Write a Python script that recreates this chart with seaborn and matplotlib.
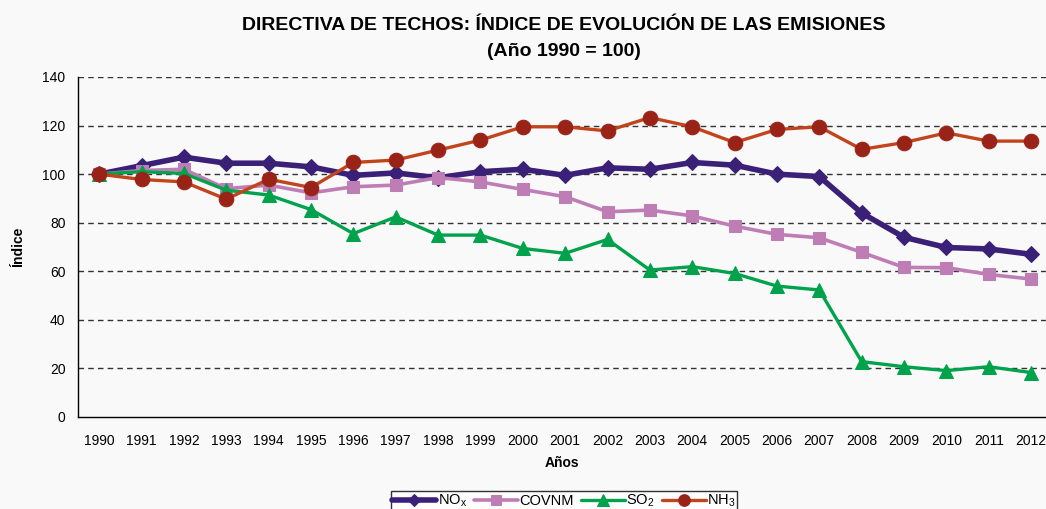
import numpy as np
import pandas as pd
import matplotlib
matplotlib.use("Agg")
import matplotlib.pyplot as plt
import seaborn as sns
from matplotlib.ticker import MultipleLocator, FixedLocator

years = list(range(1990, 2013))

nox = [100, 103.5, 107, 104.5, 104.5, 103, 99.5, 100.5, 98.5, 101, 102, 99.5,
       102.6, 102, 104.8, 103.7, 100, 99, 84, 74, 69.8, 69.2, 67]
covnm = [100, 101.5, 102, 94, 95.5, 92.3, 94.8, 95.5, 98.6, 96.8, 93.7, 90.7,
         84.5, 85.2, 82.8, 78.6, 75.2, 73.8, 67.8, 61.6, 61.5, 58.7, 56.8]
so2 = [100, 101, 100.3, 93.4, 91.4, 85.4, 75.5, 82.4, 74.9, 74.9, 69.4, 67.4,
       73.1, 60.5, 61.9, 59.1, 53.9, 52.3, 22.8, 20.7, 19.1, 20.7, 18.3]
nh3 = [100, 97.8, 96.8, 89.7, 97.9, 94.5, 104.8, 105.8, 109.9, 114, 119.5, 119.5,
       117.8, 123.3, 119.5, 113, 118.4, 119.5, 110.2, 113, 117, 113.6, 113.6]

series = ["NO$_\\mathrm{x}$", "COVNM", "SO$_2$", "NH$_3$"]

df = pd.DataFrame({
    "Año": years * 4,
    "Índice": nox + covnm + so2 + nh3,
    "Serie": [s for s in series for _ in years],
})

sns.set_style("white")
plt.rcParams["font.family"] = ["Liberation Sans", "DejaVu Sans"]
plt.rcParams["mathtext.fontset"] = "custom"
plt.rcParams["mathtext.rm"] = "Liberation Sans"
plt.rcParams["text.color"] = "black"
plt.rcParams["xtick.color"] = "black"
plt.rcParams["ytick.color"] = "black"
plt.rcParams["axes.labelcolor"] = "black"

fig = plt.figure(figsize=(10.46, 5.09), dpi=100)
fig.patch.set_facecolor("#F9F9F9")
ax = fig.add_axes([78 / 1046, 92 / 509, 968 / 1046, 340 / 509])
ax.set_facecolor("none")

styles = {
    series[0]: dict(color="#3A2077", marker="D", lw=4.0, ms=8, mfc="#3A2077", mec="#3A2077"),
    series[1]: dict(color="#BF7DB5", marker="s", lw=2.6, ms=9, mfc="#BF7DB5", mec="#BF7DB5"),
    series[2]: dict(color="#00A24B", marker="^", lw=2.4, ms=10, mfc="#00A24B", mec="#00A24B"),
    series[3]: dict(color="#C2441C", marker="o", lw=2.4, ms=10.5, mfc="#9A2318", mec="#9A2318"),
}

for s in series:
    st = styles[s]
    sns.lineplot(data=df[df["Serie"] == s], x="Año", y="Índice", ax=ax,
                 color=st["color"], marker=st["marker"], linewidth=st["lw"],
                 markersize=st["ms"], markerfacecolor=st["mfc"],
                 markeredgecolor=st["mec"], label=s, legend=False)

ax.set_xlim(1989.5, 1989.5 + 968 / 42.36)
ax.set_ylim(0, 140)
ax.yaxis.set_major_locator(MultipleLocator(20))
ax.set_xticks(years)
ax.set_xticklabels([str(y) for y in years])
ax.xaxis.set_minor_locator(FixedLocator(np.arange(1989.5, 2012.6, 1)))
ax.tick_params(axis="x", which="major", length=0, labelsize=10, pad=12)
ax.tick_params(axis="x", which="minor", length=5, width=1, color="black", direction="out")
ax.tick_params(axis="y", which="major", length=5, width=1, color="black",
               direction="out", labelsize=10, pad=4)

for v in range(20, 141, 20):
    ax.axhline(v, color="#333333", lw=1, ls=(0, (4, 3)), zorder=0)

for side in ["top", "right"]:
    ax.spines[side].set_visible(False)
for side in ["left", "bottom"]:
    ax.spines[side].set_color("black")
    ax.spines[side].set_linewidth(1)

ax.set_xlabel("Años", fontsize=10, fontweight="bold", labelpad=6)
ax.set_ylabel("Índice", fontsize=10, fontweight="bold", labelpad=12)

fig.text(564 / 1046, 1 - 26 / 509, "DIRECTIVA DE TECHOS: ÍNDICE DE EVOLUCIÓN DE LAS EMISIONES",
         ha="center", va="center", fontsize=14, fontweight="bold")
fig.text(564 / 1046, 1 - 52 / 509, "(Año 1990 = 100)",
         ha="center", va="center", fontsize=14, fontweight="bold")

handles, labels = ax.get_legend_handles_labels()
leg = fig.legend(handles, labels, loc="upper center",
                 bbox_to_anchor=(564 / 1046, 1 - 484 / 509), ncol=4,
                 frameon=True, fancybox=False, edgecolor="black",
                 fontsize=10.5, handlelength=3.0, handletextpad=0.1,
                 columnspacing=0.5, borderpad=0.1, markerscale=0.8)
leg.get_frame().set_linewidth(1)
leg.get_frame().set_facecolor("white")

fig.savefig("out.png", dpi=100, facecolor=fig.get_facecolor())
